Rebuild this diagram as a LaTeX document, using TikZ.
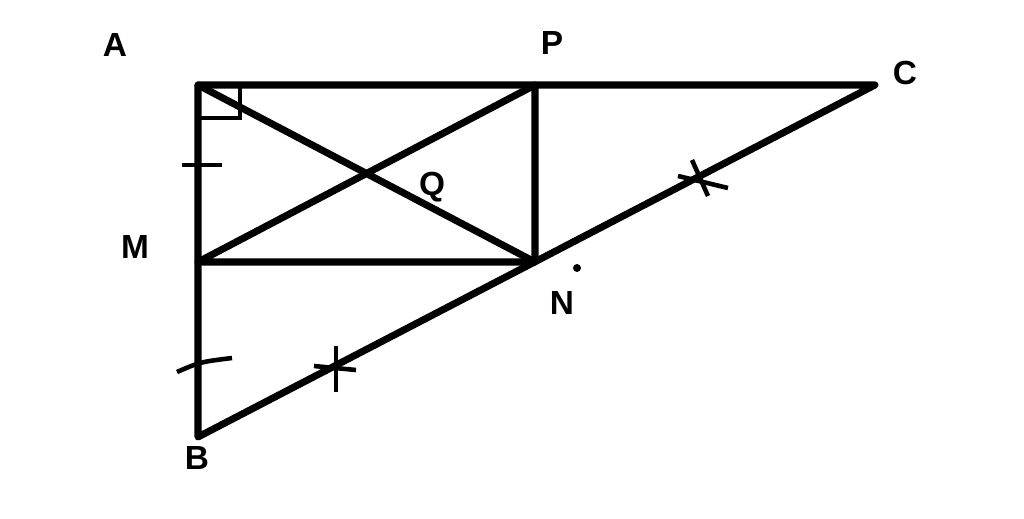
\documentclass[tikz,border=0pt]{standalone}
\usepackage{fontspec}
\setmainfont{Liberation Sans}
\usetikzlibrary{calc}
\begin{document}
\begin{tikzpicture}[x=0.01cm,y=-0.01cm,
  seg/.style={line width=2pt,line cap=round,line join=round},
  tick/.style={line width=1.3pt},
  lbl/.style={font=\bfseries\fontsize{9.5}{10}\selectfont,inner sep=0pt}]
\useasboundingbox (0,0) rectangle (1024,518);
\coordinate (A) at (198,85);
\coordinate (P) at (535,85);
\coordinate (C) at (875,85);
\coordinate (M) at (198,262);
\coordinate (N) at (535,262);
\coordinate (B) at (198,437);
\draw[seg] (A) -- (C) -- (B) -- cycle;
\draw[seg] (P) -- (N) -- (M) -- (P);
\draw[seg] (A) -- (N);
\draw[tick] (198,118) -- (240,118) -- (240,85);
\draw[tick] (182,165) -- (222,165);
\draw[tick] (177,372) .. controls (200,362) .. (232,358);
\coordinate (X1) at (700,178);
\draw[tick] ($(X1)+(-8,-18)$) -- ($(X1)+(8,18)$);
\draw[tick] ($(X1)+(-22,-2)$) -- ($(X1)+(28,10)$);
\coordinate (X2) at (336,368);
\draw[tick] ($(X2)+(0,-22)$) -- ($(X2)+(0,24)$);
\draw[tick] ($(X2)+(-22,-2)$) -- ($(X2)+(20,2)$);
\fill (577,268) circle (4);
\node[lbl] (lA) at (115,45) {A};
\node[lbl] (lP) at (552,43) {P};
\node[lbl] (lC) at (905,73) {C};
\node[lbl] (lM) at (135,247) {M};
\node[lbl] (lQ) at (432,187) {Q};
\node[lbl] (lN) at (562,303) {N};
\node[lbl] (lB) at (197,458) {B};
\end{tikzpicture}
\end{document}
